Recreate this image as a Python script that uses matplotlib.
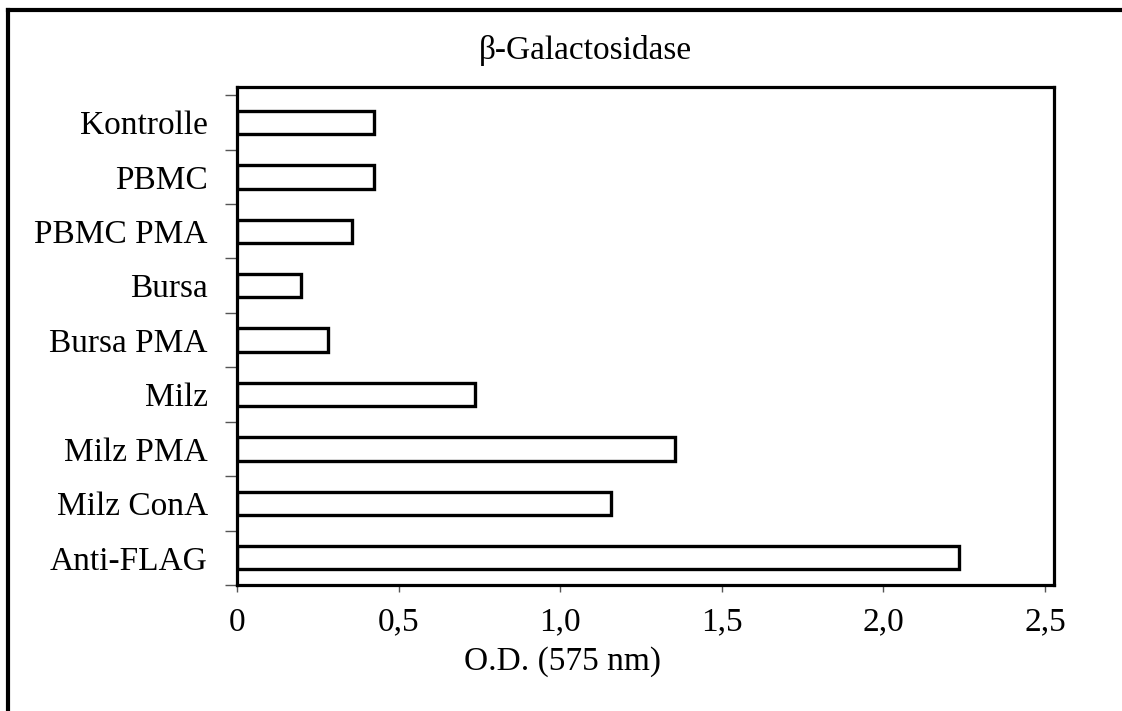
import matplotlib
matplotlib.use("Agg")
import matplotlib.pyplot as plt
from matplotlib.lines import Line2D
import numpy as np

categories = ["Kontrolle", "PBMC", "PBMC PMA", "Bursa", "Bursa PMA",
              "Milz", "Milz PMA", "Milz ConA", "Anti-FLAG"]
values = [0.424, 0.424, 0.356, 0.198, 0.283, 0.737, 1.356, 1.158, 2.235]
xticks = [0, 0.5, 1.0, 1.5, 2.0, 2.5]
xticklabels = ["0", "0,5", "1,0", "1,5", "2,0", "2,5"]
title = "β-Galactosidase"
xlabel = "O.D. (575 nm)"

plt.rcParams['font.family'] = ['Liberation Serif', 'DejaVu Serif']

W, H = 1122, 711
fig = plt.figure(figsize=(W / 100, H / 100), dpi=100)
ax = fig.add_axes([237 / W, 1 - 585 / H, (1054 - 237) / W, (585 - 87) / H])

ypos = np.arange(len(categories))
ax.barh(ypos, values, height=0.43, color="white", edgecolor="black", linewidth=2.4)

ax.set_xlim(0, 2.528)
ax.set_ylim(len(categories) - 0.5, -0.65)

ax.set_xticks(xticks)
ax.set_xticklabels(xticklabels, fontsize=24)
ax.set_yticks(ypos)
ax.set_yticklabels(categories, fontsize=24)
ax.tick_params(axis='y', which='major', length=0, pad=21)
ax.set_yticks(np.arange(-0.5, len(categories), 1.0), minor=True)
ax.tick_params(axis='y', which='minor', length=9, width=1.0, color='#555555')
ax.tick_params(axis='x', which='major', length=5, width=1.0, color='#555555', pad=11)

for s in ax.spines.values():
    s.set_linewidth(2.3)

fig.text(585 / W, 1 - 50 / H, title, ha='center', va='center', fontsize=24)
fig.text(563 / W, 1 - 662 / H, xlabel, ha='center', va='center', fontsize=24)

# outer frame (cropped: left and top visible)
fx = 8 / W
fy = 1 - 10 / H
fig.add_artist(Line2D([fx, fx], [0, fy], transform=fig.transFigure, color='black', lw=3))
fig.add_artist(Line2D([fx, 1], [fy, fy], transform=fig.transFigure, color='black', lw=3))

fig.savefig("out.png", dpi=100)
